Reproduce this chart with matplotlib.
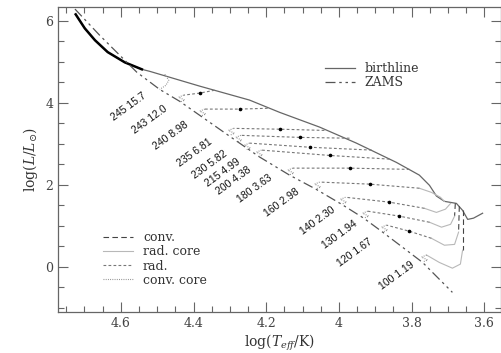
import matplotlib
matplotlib.use("Agg")
import matplotlib.pyplot as plt
from matplotlib.lines import Line2D

plt.rcParams['font.family'] = ['DejaVu Serif']
plt.rcParams['mathtext.fontset'] = 'dejavuserif'

# birthline and ZAMS  (log Teff, log L/Lsun)
birth_T = [4.724, 4.699, 4.671, 4.636, 4.589, 4.542, 4.520, 4.383, 4.246, 4.163, 4.053,
           3.952, 3.842, 3.779, 3.751, 3.732, 3.710, 3.677, 3.660, 3.646, 3.630, 3.605]
birth_L = [6.16, 5.82, 5.53, 5.24, 4.99, 4.82, 4.77, 4.41, 4.07, 3.77, 3.41,
           3.02, 2.55, 2.24, 1.99, 1.73, 1.60, 1.55, 1.38, 1.16, 1.19, 1.31]

zams_T = [4.726, 4.658, 4.556, 4.493, 4.438, 4.380, 4.301, 4.218, 4.136, 4.064,
          3.993, 3.932, 3.880, 3.770, 3.688]
zams_L = [6.29, 5.65, 4.75, 4.33, 4.04, 3.68, 3.19, 2.68, 2.24, 1.90,
          1.53, 1.19, 0.85, 0.11, -0.62]

# tracks: label -> segments (T list, L list)
# 'rad' = radiative (short dash), 'radcore' = radiative core (thin solid),
# 'conv' = convective (long dash), 'convcore' = convective core (dotted)
tracks = {
    "245 15.7": {
        "convcore": ([4.479, 4.468, 4.476, 4.493], [4.70, 4.55, 4.43, 4.33]),
    },
    "243 12.0": {
        "rad": ([4.342, 4.383, 4.427], [4.31, 4.24, 4.19]),
        "convcore": ([4.427, 4.441, 4.424, 4.438], [4.19, 4.14, 4.07, 4.02]),
    },
    "240 8.98": {
        "rad": ([4.196, 4.273, 4.369], [3.87, 3.85, 3.85]),
        "convcore": ([4.369, 4.383, 4.366, 4.380], [3.85, 3.80, 3.73, 3.68]),
    },
    "235 6.81": {
        "rad": ([4.040, 4.163, 4.290], [3.33, 3.36, 3.38]),
        "convcore": ([4.290, 4.304, 4.287, 4.301], [3.38, 3.33, 3.26, 3.21]),
    },
    "230 5.82": {
        "rad": ([3.971, 4.108, 4.270], [3.14, 3.16, 3.21]),
        "convcore": ([4.270, 4.284, 4.267, 4.281], [3.21, 3.16, 3.09, 3.04]),
    },
    "215 4.99": {
        "rad": ([3.910, 4.081, 4.246], [2.85, 2.92, 3.02]),
        "convcore": ([4.246, 4.260, 4.243, 4.257], [3.02, 2.97, 2.90, 2.85]),
    },
    "200 4.38": {
        "rad": ([3.861, 4.026, 4.213], [2.63, 2.72, 2.85]),
        "convcore": ([4.213, 4.227, 4.210, 4.224], [2.85, 2.80, 2.73, 2.68]),
    },
    "180 3.63": {
        "rad": ([3.806, 3.971, 4.127], [2.38, 2.41, 2.41]),
        "convcore": ([4.127, 4.141, 4.124, 4.138], [2.41, 2.36, 2.29, 2.24]),
    },
    "160 2.98": {
        "radcore": ([3.710, 3.721, 3.746, 3.779], [1.60, 1.70, 1.82, 1.92]),
        "rad": ([3.779, 3.916, 4.053], [1.92, 2.02, 2.07]),
        "convcore": ([4.053, 4.067, 4.050, 4.064], [2.07, 2.02, 1.95, 1.90]),
    },
    "140 2.30": {
        "radcore": ([3.693, 3.707, 3.732, 3.765], [1.55, 1.41, 1.33, 1.43]),
        "rad": ([3.765, 3.861, 3.982], [1.43, 1.58, 1.70]),
        "convcore": ([3.982, 3.996, 3.979, 3.993], [1.70, 1.65, 1.58, 1.53]),
    },
    "130 1.94": {
        "conv": ([3.680, 3.682], [1.55, 1.24]),
        "radcore": ([3.682, 3.693, 3.718, 3.751], [1.24, 1.04, 0.97, 1.09]),
        "rad": ([3.751, 3.834, 3.921], [1.09, 1.24, 1.36]),
        "convcore": ([3.921, 3.935, 3.918, 3.932], [1.36, 1.31, 1.24, 1.19]),
    },
    "120 1.67": {
        "conv": ([3.669, 3.671], [1.48, 0.85]),
        "radcore": ([3.671, 3.682, 3.710, 3.746], [0.85, 0.55, 0.53, 0.70]),
        "rad": ([3.746, 3.806, 3.869], [0.70, 0.87, 1.02]),
        "convcore": ([3.869, 3.883, 3.866, 3.880], [1.02, 0.97, 0.90, 0.85]),
    },
    "100 1.19": {
        "conv": ([3.660, 3.660], [1.38, 0.41]),
        "radcore": ([3.660, 3.666, 3.688, 3.724, 3.759], [0.41, 0.07, -0.03, 0.11, 0.29]),
        "convcore": ([3.759, 3.773, 3.756, 3.770], [0.29, 0.24, 0.17, 0.12]),
    },
}

# label positions (log Teff, log L)
label_T = [4.578, 4.520, 4.463, 4.397, 4.355, 4.320, 4.290, 4.232, 4.158, 4.059, 3.998, 3.957, 3.842]
label_L = [3.92, 3.60, 3.21, 2.80, 2.50, 2.29, 2.11, 1.90, 1.58, 1.14, 0.80, 0.36, -0.20]

styles = {
    "conv": dict(color="#444444", lw=0.8, dashes=(5, 3)),
    "radcore": dict(color="#b8b8b8", lw=0.8),
    "rad": dict(color="#777777", lw=0.8, dashes=(2.5, 2)),
    "convcore": dict(color="#888888", lw=0.8, dashes=(0.8, 1.2)),
}

fig = plt.figure(figsize=(5.02, 3.53), dpi=100)
ax = fig.add_axes([0.116, 0.116, 0.883, 0.863])

ax.plot(birth_T, birth_L, color="#666666", lw=0.9)
ax.plot(birth_T[:6], birth_L[:6], color="black", lw=1.8)
ax.plot(zams_T, zams_L, color="#555555", lw=0.9, dashes=(8, 3, 2, 3, 2, 3))

for name, segs in tracks.items():
    for kind, (tt, ll) in segs.items():
        if kind == "rad":
            ax.plot(tt, ll, marker="o", ms=1.6, mfc="black", mec="black",
                    markevery=[1], **styles[kind])
        else:
            ax.plot(tt, ll, **styles[kind])

for name, t, l in zip(tracks.keys(), label_T, label_L):
    ax.text(t, l, name, rotation=36, ha="center", va="center", rotation_mode="anchor",
            fontsize=7.5, family=["Liberation Sans", "DejaVu Sans"], color="#111111")

ax.set_xlim(4.772, 3.553)
ax.set_ylim(-1.10, 6.33)

ax.set_xticks([4.6, 4.4, 4.2, 4.0, 3.8, 3.6])
ax.set_xticklabels(["4.6", "4.4", "4.2", "4", "3.8", "3.6"])
ax.set_yticks([0, 2, 4, 6])
ax.set_xticks([x / 100 for x in range(360, 480, 5)], minor=True)
ax.set_yticks([y / 2 for y in range(-2, 13)], minor=True)
ax.tick_params(which="both", direction="in", top=True, right=True,
               color="#666666", labelsize=9, labelcolor="#444444")
ax.tick_params(which="major", length=7, width=0.8)
ax.tick_params(which="minor", length=4, width=0.8)
for s in ax.spines.values():
    s.set_color("#666666")
    s.set_linewidth(0.9)

ax.set_xlabel(r"log($T_{eff}$/K)", fontsize=10, color="#333333", labelpad=2)
ax.set_ylabel(r"log($L/L_{\odot}$)", fontsize=10, color="#333333", labelpad=4)

h1 = [Line2D([], [], color="#666666", lw=0.9),
      Line2D([], [], color="#555555", lw=0.9, dashes=(8, 3, 2, 3, 2, 3))]
leg1 = ax.legend(h1, ["birthline", "ZAMS"], loc="upper left", bbox_to_anchor=(0.601, 0.82),
                 frameon=False, fontsize=9, handlelength=2.4, handletextpad=0.8,
                 borderpad=0, borderaxespad=0, labelspacing=0.1, labelcolor="#333333")
ax.add_artist(leg1)

h2 = [Line2D([], [], **styles[k]) for k in ["conv", "radcore", "rad", "convcore"]]
ax.legend(h2, ["conv.", "rad. core", "rad.", "conv. core"], loc="upper left",
          bbox_to_anchor=(0.101, 0.266), frameon=False, fontsize=9, handlelength=2.4,
          handletextpad=0.8, borderpad=0, borderaxespad=0, labelspacing=0.1,
          labelcolor="#333333")

plt.savefig("out.png", dpi=100)
